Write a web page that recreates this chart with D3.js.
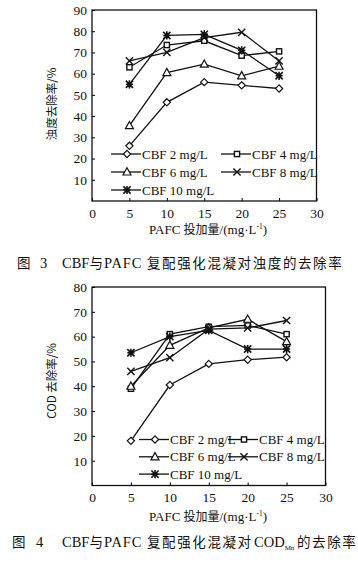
<!DOCTYPE html>
<html>
<head>
<meta charset="utf-8">
<script src="https://cdn.jsdelivr.net/npm/d3@7"></script>
<style>
  body { margin: 0; background: #fff; }
  text { font-family: "Liberation Serif", "DejaVu Serif", serif; fill: #111; }
  .cjk { font-family: "Noto Sans CJK SC", sans-serif; }
</style>
</head>
<body>
<svg id="chart" width="358" height="565"></svg>
<script>
// PAFC dose (x values)
const doses = [5, 10, 15, 20, 25];
const seriesNames = ["CBF 2 mg/L", "CBF 4 mg/L", "CBF 6 mg/L", "CBF 8 mg/L", "CBF 10 mg/L"];
const markers = ["diamond", "square", "triangle", "cross", "star"];

// Fig 3: turbidity removal (%)
const turbCBF2 = [26, 46.5, 56, 54.5, 53];
const turbCBF4 = [63, 73.5, 75.5, 68.5, 70.5];
const turbCBF6 = [35.5, 60.5, 64.5, 59, 63.5];
const turbCBF8 = [66, 70, 77, 79.5, 66];
const turbCBF10 = [55, 78, 78.5, 71, 59];

// Fig 4: COD removal (%)
const codCBF2 = [18, 40.5, 49, 50.7, 51.7];
const codCBF4 = [39, 61, 64, 64.5, 61];
const codCBF6 = [40, 56.5, 63.5, 67, 58];
const codCBF8 = [46, 51.5, 63, 63.5, 66.5];
const codCBF10 = [53.5, 60, 62.5, 55, 55];

const xTicks = [0, 5, 10, 15, 20, 25, 30];
const turbTicks = [10, 20, 30, 40, 50, 60, 70, 80, 90];
const codTicks = [10, 20, 30, 40, 50, 60, 70, 80];

const svg = d3.select("#chart");

// marker drawing
function drawMarker(g, type, x, y) {
  const s = 3.6;
  if (type === "diamond") {
    g.append("path").attr("d", `M${x},${y - s}L${x + s},${y}L${x},${y + s}L${x - s},${y}Z`)
      .attr("fill", "#fff").attr("stroke", "#111").attr("stroke-width", 1.2);
  } else if (type === "square") {
    g.append("rect").attr("x", x - 2.6).attr("y", y - 2.6).attr("width", 5.2).attr("height", 5.2)
      .attr("fill", "#fff").attr("stroke", "#111").attr("stroke-width", 1.4);
  } else if (type === "triangle") {
    g.append("path").attr("d", `M${x},${y - 4.2}L${x + 4},${y + 3}L${x - 4},${y + 3}Z`)
      .attr("fill", "#fff").attr("stroke", "#111").attr("stroke-width", 1.2);
  } else if (type === "cross") {
    g.append("path").attr("d", `M${x - s},${y - s}L${x + s},${y + s}M${x - s},${y + s}L${x + s},${y - s}`)
      .attr("stroke", "#111").attr("stroke-width", 1.4);
  } else {
    g.append("path").attr("d", `M${x - s},${y - s}L${x + s},${y + s}M${x - s},${y + s}L${x + s},${y - s}M${x},${y - s - 0.5}L${x},${y + s + 0.5}M${x - s},${y}L${x + s},${y}`)
      .attr("stroke", "#111").attr("stroke-width", 1.6);
  }
}

function drawChart(cfg) {
  const x = d3.scaleLinear().domain([0, 30]).range([cfg.left, cfg.right]);
  const y = d3.scaleLinear().domain([0, cfg.yMax]).range([cfg.bottom, cfg.top]);
  const g = svg.append("g");

  // frame
  g.append("rect")
    .attr("x", cfg.left).attr("y", cfg.top)
    .attr("width", cfg.right - cfg.left).attr("height", cfg.bottom - cfg.top)
    .attr("fill", "none").attr("stroke", "#111").attr("stroke-width", 1.3);

  // axes (inner ticks)
  g.append("g").attr("transform", `translate(0,${cfg.bottom})`)
    .call(d3.axisBottom(x).tickValues(xTicks).tickSizeInner(-3).tickSizeOuter(0).tickPadding(7))
    .call(a => a.select(".domain").remove())
    .call(a => a.selectAll("text").attr("font-size", 13.5).attr("font-family", "Liberation Serif"));
  g.append("g").attr("transform", `translate(${cfg.left},0)`)
    .call(d3.axisLeft(y).tickValues(cfg.yTicks).tickSizeInner(-3).tickSizeOuter(0).tickPadding(5))
    .call(a => a.select(".domain").remove())
    .call(a => a.selectAll("text").attr("font-size", 13.5).attr("font-family", "Liberation Serif"));

  // series
  const line = d3.line().x((d, i) => x(doses[i])).y(d => y(d));
  cfg.series.forEach((vals, k) => {
    g.append("path").datum(vals).attr("d", line)
      .attr("fill", "none").attr("stroke", "#111").attr("stroke-width", 1.3);
  });
  cfg.series.forEach((vals, k) => {
    vals.forEach((v, i) => drawMarker(g, markers[k], x(doses[i]), y(v)));
  });

  // legend
  seriesNames.forEach((name, k) => {
    const col = k % 2, row = Math.floor(k / 2);
    const lx = cfg.legX[col], ly = cfg.legY + row * cfg.legDy;
    g.append("line").attr("x1", lx).attr("x2", lx + 30).attr("y1", ly).attr("y2", ly)
      .attr("stroke", "#111").attr("stroke-width", 1.3);
    drawMarker(g, markers[k], lx + 16, ly);
    g.append("text").attr("x", lx + 31).attr("y", ly + 4.5)
      .attr("font-size", 13).text(name);
  });

  // y label
  g.append("text").attr("class", "cjk")
    .attr("transform", `translate(${cfg.yLabX},${cfg.yLabY}) rotate(-90)`)
    .attr("text-anchor", "middle").attr("font-size", 11.5)
    .text(cfg.yLabel);

  // x label
  const xl = g.append("text").attr("x", 208).attr("y", cfg.xLabY)
    .attr("text-anchor", "middle").attr("font-size", 13);
  xl.append("tspan").text("PAFC ");
  xl.append("tspan").attr("class", "cjk").attr("font-size", 12).text("投加量");
  xl.append("tspan").text("/(mg·L");
  xl.append("tspan").attr("font-size", 7.5).attr("dy", -5).text("-1");
  xl.append("tspan").attr("dy", 5).text(")");
}

drawChart({
  left: 92, right: 316.5, top: 10, bottom: 201, yMax: 90, yTicks: turbTicks,
  series: [turbCBF2, turbCBF4, turbCBF6, turbCBF8, turbCBF10],
  legX: [111, 221], legY: 154, legDy: 18,
  yLabel: "浊度去除率/%", yLabX: 56, yLabY: 104, xLabY: 234
});

drawChart({
  left: 92, right: 325.5, top: 287, bottom: 485.5, yMax: 80, yTicks: codTicks,
  series: [codCBF2, codCBF4, codCBF6, codCBF8, codCBF10],
  legX: [139, 228], legY: 439.5, legDy: 17.3,
  yLabel: "COD 去除率/%", yLabX: 56, yLabY: 381, xLabY: 521
});

// captions
function caption(yPos, pieces) {
  const t = svg.append("text").attr("y", yPos).attr("font-size", 14.5);
  pieces.forEach(p => {
    const ts = t.append("tspan").text(p.t);
    if (p.x != null) ts.attr("x", p.x);
    if (p.cjk) ts.attr("class", "cjk").attr("font-size", 13.5).attr("letter-spacing", p.ls || 0);
    if (p.ls && !p.cjk) ts.attr("letter-spacing", p.ls);
    if (p.fs) ts.attr("font-size", p.fs);
    if (p.dy) ts.attr("dy", p.dy);
  });
}
caption(268, [
  { t: "图", x: 17, cjk: true }, { t: "3", x: 40 },
  { t: "CBF", x: 62 }, { t: "与", cjk: true },
  { t: "PAFC", x: 104, ls: 0.8 },
  { t: "复配强化混凝对浊度的去除率", x: 147, cjk: true, ls: 1.6 }
]);
caption(547, [
  { t: "图", x: 12, cjk: true }, { t: "4", x: 36 },
  { t: "CBF", x: 62 }, { t: "与", cjk: true },
  { t: "PAFC", x: 104, ls: 0.8 },
  { t: "复配强化混凝对", x: 147, cjk: true, ls: 1.6 },
  { t: "COD", x: 254 }, { t: "Mn", fs: 7, dy: 3 },
  { t: "的去除率", x: 297, cjk: true, dy: -3, ls: 1.6 }
]);
</script>
</body>
</html>
